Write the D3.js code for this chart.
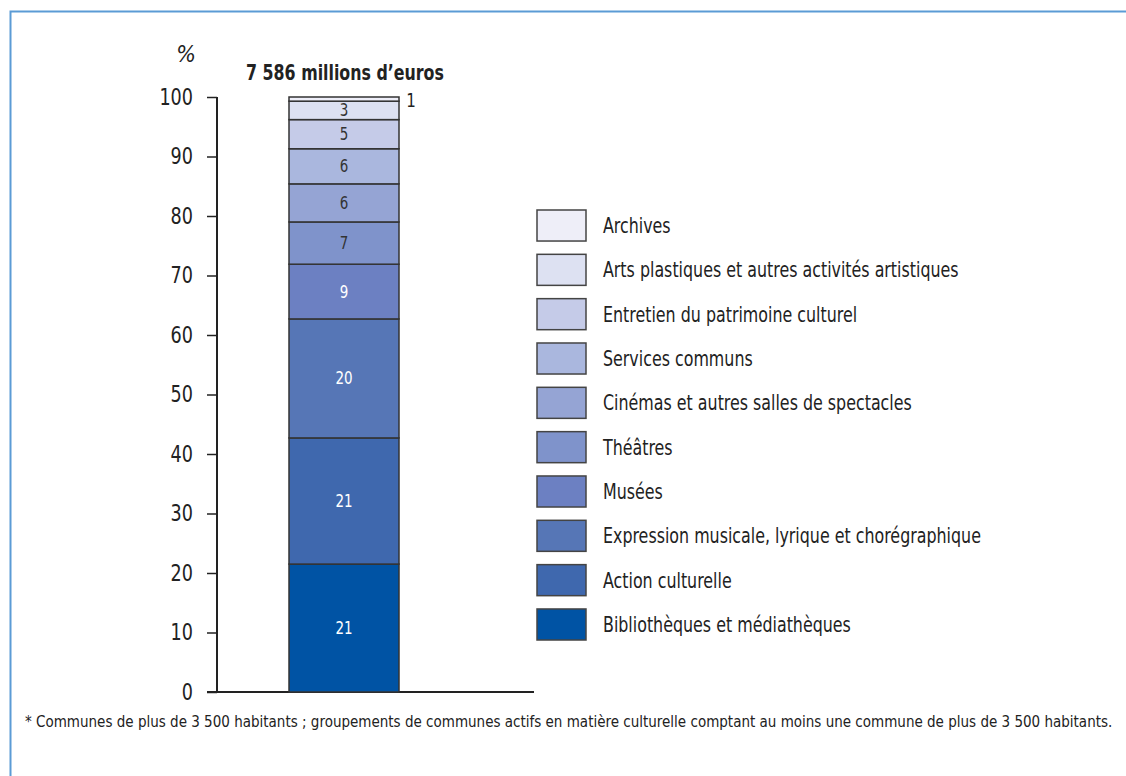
<!DOCTYPE html>
<html><head><meta charset="utf-8">
<script src="https://cdn.jsdelivr.net/npm/d3@7"></script>
<style>
html,body{margin:0;padding:0;background:#fff;}
svg text{font-family:"Liberation Sans Narrow","DejaVu Sans Condensed","Open Sans",sans-serif;fill:#222;}
</style></head>
<body>
<svg id="chart" width="1126" height="776"></svg>
<script>
// Data (legend order, top to bottom)
const categories = ["Archives","Arts plastiques et autres activités artistiques","Entretien du patrimoine culturel","Services communs","Cinémas et autres salles de spectacles","Théâtres","Musées","Expression musicale, lyrique et chorégraphique","Action culturelle","Bibliothèques et médiathèques"];
const shares = [0.7, 3.1, 4.9, 5.9, 6.4, 7.1, 9.2, 20.0, 21.2, 21.5];
const shareLabels = ["1","3","5","6","6","7","9","20","21","21"];
const colors = ["#eeeef8","#dde1f2","#c5cbe8","#aab7de","#95a4d4","#7f93cb","#6c80c2","#5676b6","#3f68ae","#0053a4"];
const labelColors = ["#222","#333","#333","#333","#333","#333","#fff","#fff","#fff","#fff"];
const yTicks = [0,10,20,30,40,50,60,70,80,90,100];
const title = "7 586 millions d’euros";
const footnote = "* Communes de plus de 3 500 habitants ; groupements de communes actifs en matière culturelle comptant au moins une commune de plus de 3 500 habitants.";

const svg = d3.select("#chart");

// condense text horizontally
function condense(sel, f){
  sel.each(function(){
    const w = this.getComputedTextLength();
    d3.select(this).attr("textLength", w*f).attr("lengthAdjust","spacingAndGlyphs");
  });
}

// Frame
svg.append("path").attr("d","M10.5,776 L10.5,11.5 L1126,11.5")
  .attr("fill","none").attr("stroke","#5b9bd5").attr("stroke-width",2);

const y = d3.scaleLinear().domain([0,100]).range([692,97]);
const barX0 = 289, barW = 110;

// stack from bottom
const rows = categories.map((c,i)=>({cat:c,v:shares[i],lab:shareLabels[i],col:colors[i],lc:labelColors[i]})).reverse();
let acc = 0;
rows.forEach(r=>{r.y0=acc; acc+=r.v; r.y1=acc;});

// axes
const yAxis = d3.axisLeft(y).tickValues(yTicks).tickSize(10).tickPadding(14);
const gy = svg.append("g").attr("transform","translate(217,0)").call(yAxis);
gy.select(".domain").attr("stroke","#222").attr("stroke-width",2).attr("d","M0,"+y(100)+"V"+y(0));
gy.selectAll(".tick line").attr("stroke","#222").attr("stroke-width",1.5);
gy.selectAll(".tick text").attr("font-size",23).attr("fill","#222")
  .style("font-family",'"Liberation Sans Narrow","DejaVu Sans Condensed",sans-serif');
condense(gy.selectAll(".tick text"), 0.85);

svg.append("line").attr("x1",207).attr("x2",534).attr("y1",y(0)).attr("y2",y(0))
  .attr("stroke","#222").attr("stroke-width",2);

svg.append("text").attr("x",186).attr("y",62).attr("text-anchor","middle")
  .attr("font-size",23).attr("font-style","italic").text("%");

// bars
const g = svg.append("g");
g.selectAll("rect.seg").data(rows).join("rect").attr("class","seg")
  .attr("x",barX0).attr("width",barW)
  .attr("y",d=>y(d.y1)).attr("height",d=>y(d.y0)-y(d.y1))
  .attr("fill",d=>d.col).attr("stroke","#333").attr("stroke-width",1.5);

const segT = g.selectAll("text.seg").data(rows).join("text").attr("class","seg")
  .attr("x",d=>d.v<2 ? barX0+barW+12 : barX0+barW/2)
  .attr("y",d=>d.v<2 ? y(d.y1)+3 : (y(d.y0)+y(d.y1))/2)
  .attr("dy","0.35em").attr("text-anchor","middle")
  .attr("font-size",d=>d.v<2?19:17)
  .style("fill",d=>d.lc).text(d=>d.lab);
condense(segT, 0.88);

const tt = svg.append("text").attr("x",barX0+barW/2+1).attr("y",80).attr("text-anchor","middle")
  .attr("font-size",22).attr("font-weight","bold").text(title);
condense(tt, 0.8);

// legend
const lg = svg.append("g");
const legY = d3.scaleBand().domain(categories).range([210,640]).paddingInner(0.3);
categories.forEach((c,i)=>{
  const yy = legY(c);
  lg.append("rect").attr("x",537).attr("y",yy).attr("width",49).attr("height",legY.bandwidth())
    .attr("fill",colors[i]).attr("stroke","#444").attr("stroke-width",1.5);
  const t = lg.append("text").attr("x",603).attr("y",yy+legY.bandwidth()/2).attr("dy","0.35em")
    .attr("font-size",21).text(c);
  condense(t, 0.84);
});

// footnote
const fn = svg.append("text").attr("x",25).attr("y",727).attr("font-size",15).text(footnote);
const fw = fn.node().getComputedTextLength();
if (fw > 1088) fn.attr("textLength",1088).attr("lengthAdjust","spacingAndGlyphs");
</script>
</body></html>
